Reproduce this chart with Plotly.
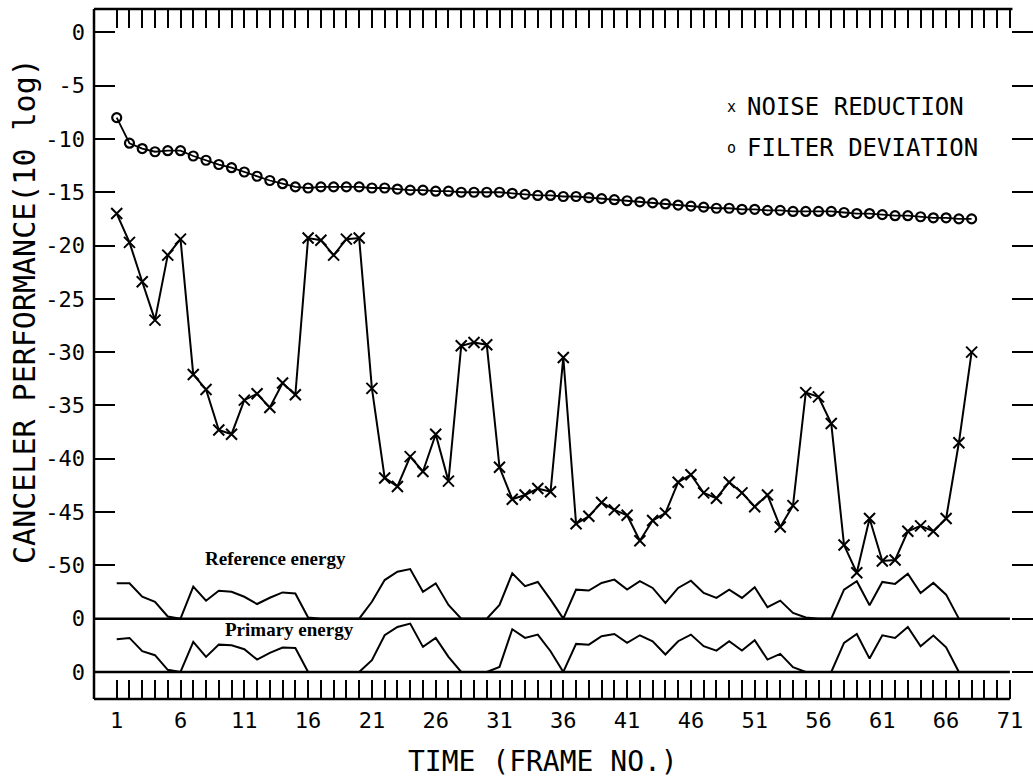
import plotly.graph_objects as go

# ---- data -------------------------------------------------------------
frames = list(range(1, 69))

noise_reduction = [
    -17.0, -19.7, -23.4, -27.0, -20.9, -19.4, -32.1, -33.5, -37.3, -37.7,
    -34.5, -33.9, -35.2, -32.9, -34.0, -19.3, -19.5, -20.9, -19.4, -19.3,
    -33.4, -41.8, -42.6, -39.8, -41.2, -37.7, -42.1, -29.4, -29.1, -29.3,
    -40.8, -43.8, -43.4, -42.8, -43.1, -30.5, -46.1, -45.4, -44.1, -44.8,
    -45.3, -47.7, -45.8, -45.1, -42.2, -41.5, -43.2, -43.7, -42.2, -43.2,
    -44.5, -43.4, -46.4, -44.4, -33.8, -34.2, -36.7, -48.1, -50.7, -45.6,
    -49.6, -49.5, -46.8, -46.3, -46.8, -45.6, -38.5, -30.0,
]

filter_deviation = [
    -8.0, -10.4, -10.9, -11.2, -11.1, -11.1, -11.6, -12.0, -12.4, -12.7,
    -13.1, -13.5, -13.9, -14.2, -14.5, -14.6, -14.5, -14.5, -14.5, -14.5,
    -14.6, -14.6, -14.7, -14.8, -14.8, -14.9, -14.9, -15.0, -15.0, -15.0,
    -15.0, -15.1, -15.2, -15.3, -15.3, -15.4, -15.4, -15.5, -15.6, -15.7,
    -15.8, -15.9, -16.0, -16.1, -16.2, -16.3, -16.4, -16.5, -16.5, -16.6,
    -16.6, -16.7, -16.7, -16.8, -16.8, -16.8, -16.8, -16.9, -17.0, -17.0,
    -17.1, -17.2, -17.2, -17.3, -17.4, -17.4, -17.5, -17.5,
]

energy_frames = list(range(1, 68))

# energy envelopes, drawn above their own zero lines
reference_energy = [
    3.31, 3.31, 2.05, 1.58, 0.2, 0.0, 3.0, 1.68, 2.62, 2.52,
    2.05, 1.37, 1.96, 2.46, 2.36, 0.1, 0.0, 0.0, 0.0, 0.0,
    1.58, 3.62, 4.4, 4.65, 2.52, 3.31, 1.28, 0.0, 0.0, 0.0,
    1.28, 4.25, 3.04, 3.44, 1.78, 0.0, 2.72, 2.63, 3.35, 3.66,
    2.72, 3.51, 2.88, 1.47, 2.88, 3.56, 2.41, 1.94, 2.72, 1.94,
    2.95, 1.07, 1.69, 0.53, 0.1, 0.0, 0.0, 2.72, 3.51, 1.26,
    3.44, 3.26, 4.22, 2.41, 3.35, 2.25, 0.0,
]

primary_energy = [
    3.07, 3.19, 1.94, 1.57, 0.2, 0.0, 2.81, 1.41, 2.56, 2.5,
    2.13, 1.16, 1.78, 2.28, 2.25, 0.0, 0.0, 0.0, 0.0, 0.0,
    1.1, 3.44, 4.22, 4.53, 2.35, 3.19, 1.41, 0.0, 0.0, 0.0,
    0.47, 4.0, 3.19, 3.5, 1.94, 0.0, 2.63, 2.56, 3.35, 3.56,
    2.72, 3.44, 2.88, 1.63, 2.88, 3.5, 2.41, 2.0, 2.88, 2.0,
    2.97, 1.16, 1.69, 0.44, 0.0, 0.0, 0.0, 2.72, 3.56, 1.25,
    3.44, 3.19, 4.22, 2.41, 3.41, 2.31, 0.0,
]

REFERENCE_ZERO = -55
PRIMARY_ZERO = -60

y_tick_values = [0, -5, -10, -15, -20, -25, -30, -35, -40, -45, -50, -55, -60]
y_tick_labels = ["0", "-5", "-10", "-15", "-20", "-25", "-30", "-35", "-40",
                 "-45", "-50", "0", "0"]
x_tick_frames = list(range(1, 72))
x_labelled_frames = [1, 6, 11, 16, 21, 26, 31, 36, 41, 46, 51, 56, 61, 66, 71]

# ---- layout constants -------------------------------------------------
X_RANGE = [-0.78, 72.81]
Y_RANGE = [-62.54, 2.19]
INK = "black"
MONO = "DejaVu Sans Mono"

fig = go.Figure()

fig.add_trace(go.Scatter(
    x=energy_frames, y=[REFERENCE_ZERO + e for e in reference_energy],
    mode="lines", line=dict(color=INK, width=2), showlegend=False,
))
fig.add_trace(go.Scatter(
    x=energy_frames, y=[PRIMARY_ZERO + e for e in primary_energy],
    mode="lines", line=dict(color=INK, width=2), showlegend=False,
))
fig.add_trace(go.Scatter(
    x=frames, y=filter_deviation, mode="lines+markers",
    line=dict(color=INK, width=1.8),
    marker=dict(symbol="circle-open", size=9, color=INK,
                line=dict(color=INK, width=2.2)),
    showlegend=False,
))
fig.add_trace(go.Scatter(
    x=frames, y=noise_reduction, mode="lines+markers",
    line=dict(color=INK, width=2),
    marker=dict(symbol="x-thin", size=11, color=INK,
                line=dict(color=INK, width=2)),
    showlegend=False,
))

# frame and the two energy zero lines
frame_lines = [
    dict(xref="paper", yref="paper", x0=0, x1=0, y0=0, y1=1),
    dict(xref="x", yref="paper", x0=X_RANGE[0], x1=71.2, y0=1, y1=1),
    dict(xref="x", yref="paper", x0=X_RANGE[0], x1=71, y0=0, y1=0),
    dict(xref="x", yref="y", x0=X_RANGE[0], x1=71, y0=REFERENCE_ZERO, y1=REFERENCE_ZERO),
    dict(xref="x", yref="y", x0=X_RANGE[0], x1=71, y0=PRIMARY_ZERO, y1=PRIMARY_ZERO),
]
for s in frame_lines:
    fig.add_shape(type="line", line=dict(color=INK, width=2.5), **s)

annotations = [
    # legend
    dict(x=0.6794, y=0.8580, text="x", font=dict(family=MONO, size=15),
         xanchor="center"),
    dict(x=0.6933, y=0.8580, text="NOISE REDUCTION", font=dict(family=MONO, size=24),
         xanchor="left"),
    dict(x=0.6784, y=0.7986, text="o", font=dict(family=MONO, size=15),
         xanchor="center"),
    dict(x=0.6933, y=0.7986, text="FILTER DEVIATION", font=dict(family=MONO, size=24),
         xanchor="left"),
    # energy captions
    dict(x=0.1938, y=0.2043, text="<b>Reference energy</b>",
         font=dict(family="Liberation Serif", size=19), xanchor="center"),
    dict(x=0.2077, y=0.1014, text="<b>Primary energy</b>",
         font=dict(family="Liberation Serif", size=19), xanchor="center"),
    # axis titles
    dict(x=-0.0746, y=0.5623, text="CANCELER PERFORMANCE(10 log)", textangle=-90,
         font=dict(family=MONO, size=30), xanchor="center"),
    dict(x=0.478, y=-0.0899, text="TIME (FRAME NO.)",
         font=dict(family=MONO, size=28), xanchor="center"),
]
for a in annotations:
    fig.add_annotation(xref="paper", yref="paper", showarrow=False,
                       yanchor="middle", font_color=INK, **a)

fig.update_xaxes(
    range=X_RANGE, showgrid=False, zeroline=False, showline=False,
    mirror="ticks", ticks="inside", ticklen=19, tickwidth=2, tickcolor=INK,
    tickmode="array", tickvals=x_tick_frames,
    ticktext=[str(f) if f in x_labelled_frames else "" for f in x_tick_frames],
    tickfont=dict(family=MONO, size=22, color=INK), ticklabelstandoff=6,
)
fig.update_yaxes(
    range=Y_RANGE, showgrid=False, zeroline=False, showline=False,
    mirror="ticks", ticks="inside", ticklen=21, tickwidth=2, tickcolor=INK,
    tickmode="array", tickvals=y_tick_values, ticktext=y_tick_labels,
    tickfont=dict(family=MONO, size=22, color=INK), ticklabelstandoff=8,
)

fig.update_layout(
    width=1033, height=784,
    margin=dict(l=94, r=0, t=9, b=85),
    paper_bgcolor="white", plot_bgcolor="white",
    showlegend=False,
)

fig.write_html("out.html")
